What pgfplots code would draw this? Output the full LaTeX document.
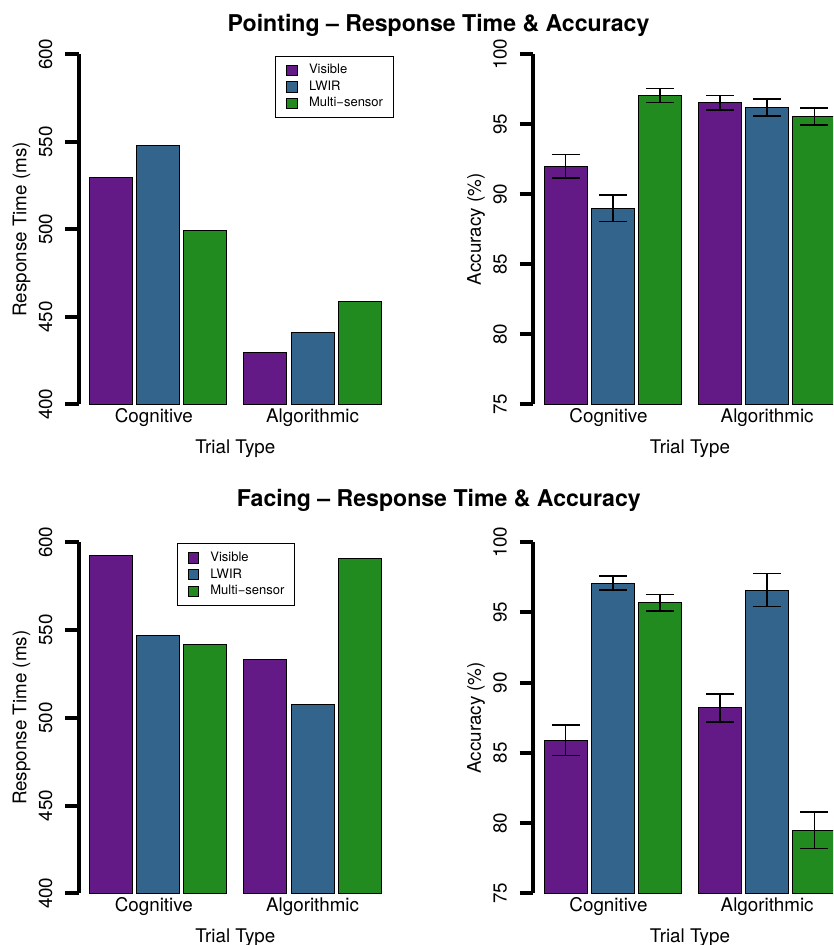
\documentclass[border=0pt]{standalone}
\usepackage{fontspec}
\setmainfont{TeX Gyre Heros}
\usepackage{pgfplots}
\pgfplotsset{compat=1.18}
\usepackage{pgfplotstable}

\definecolor{cvis}{HTML}{641A86}
\definecolor{clwir}{HTML}{33648B}
\definecolor{cmulti}{HTML}{228B1F}

% Pointing - response time (ms)
\pgfplotstableread{
group vis lwir multi
1 529.5 548.0 499.4
2 429.7 441.3 458.6
}\ptrt
% Pointing - accuracy (%)
\pgfplotstableread{
group vis visE lwir lwirE multi multiE
1 92.0 0.85 89.0 0.95 97.05 0.50
2 96.55 0.52 96.2 0.60 95.55 0.60
}\ptacc
% Facing - response time (ms)
\pgfplotstableread{
group vis lwir multi
1 592.6 546.7 541.5
2 533.5 507.7 590.7
}\fart
% Facing - accuracy (%)
\pgfplotstableread{
group vis visE lwir lwirE multi multiE
1 85.9 1.07 97.1 0.50 95.7 0.59
2 88.2 1.00 96.6 1.17 79.5 1.30
}\faacc

\pgfplotsset{
  panel/.style={
    scale only axis, width=156.65pt,
    xmin=-0.252, xmax=7.052,
    axis lines*=left, axis line style={-},
    x axis line style={draw=none},
    y axis line style={line width=2pt, black},
    xtick={1.5,5.2}, xticklabels={Cognitive,Algorithmic},
    x tick style={draw=none},
    ytick style={line width=2pt, black},
    tick align=outside, major tick length=6.8pt,
    /pgf/number format/assume math mode=true,
    tick label style={font=\fontsize{9.4}{11}\selectfont},
    label style={font=\fontsize{9.4}{11}\selectfont},
    yticklabel style={rotate=90, anchor=south, inner sep=0pt, yshift=6.15pt},
    xticklabel style={anchor=base, inner sep=0pt, yshift=-2.4pt},
    xlabel={Trial Type},
    xlabel style={at={(axis description cs:0.5,0)}, anchor=base, inner sep=0pt, yshift=-24.85pt},
    ylabel style={at={(axis description cs:0,0.5)}, anchor=center, yshift=28.6pt},
    bar width=1,
    error bars/error bar style={line width=0.75pt, black},
    error bars/error mark options={rotate=90, line width=0.75pt, mark size=7pt, black},
    legend image code/.code={\draw[#1,draw=black,line width=0.4pt] (0pt,-2.6pt) rectangle (5.2pt,2.6pt);},
    legend style={anchor=north west, draw=black, line width=0.5pt,
      font=\fontsize{6.5}{8}\selectfont, inner xsep=5.2pt, inner ysep=3.8pt,
      nodes={inner sep=0pt, text height=5pt, text depth=1.5pt},
      row sep=1.8pt, column sep=5.8pt},
    legend cell align=left,
  },
  barV/.style={ybar, fill=cvis, draw=black, line width=0.5pt},
  barL/.style={ybar, fill=clwir, draw=black, line width=0.5pt},
  barM/.style={ybar, fill=cmulti, draw=black, line width=0.5pt},
}

\begin{document}
\begin{tikzpicture}
\useasboundingbox (0,0) rectangle (416.5pt,472.5pt);
\clip (0,0) rectangle (416.5pt,472.5pt);

\node[anchor=base, font=\fontsize{11.55}{13}\selectfont\bfseries] at (219.25pt,456.65pt) {Pointing – Response Time \& Accuracy};
\node[anchor=base, font=\fontsize{11.55}{13}\selectfont\bfseries] at (219.4pt,219.15pt) {Facing – Response Time \& Accuracy};

% Top left: pointing RT
\begin{axis}[panel, at={(39.35pt,270.35pt)}, anchor=south west, height=175pt,
  ymin=400, ymax=600, ytick={400,450,500,550,600}, ylabel={Response Time (ms)},
  legend style={at={(axis description cs:0.6275,0.996)}}]
\addplot[barV] table[x expr=\coordindex*3.6+0.5, y=vis] \ptrt;
\addplot[barL] table[x expr=\coordindex*3.6+1.6, y=lwir] \ptrt;
\addplot[barM] table[x expr=\coordindex*3.6+2.7, y=multi] \ptrt;
\legend{Visible,LWIR,Multi−sensor}
\end{axis}

% Top right: pointing accuracy
\begin{axis}[panel, at={(266.65pt,270.35pt)}, anchor=south west, height=175pt,
  ymin=75, ymax=100, ytick={75,80,85,90,95,100}, ylabel={Accuracy (\%)}]
\addplot[barV, error bars/.cd, y dir=both, y explicit] table[x expr=\coordindex*3.6+0.5, y=vis, y error=visE] \ptacc;
\addplot[barL, error bars/.cd, y dir=both, y explicit] table[x expr=\coordindex*3.6+1.6, y=lwir, y error=lwirE] \ptacc;
\addplot[barM, error bars/.cd, y dir=both, y explicit] table[x expr=\coordindex*3.6+2.7, y=multi, y error=multiE] \ptacc;
\end{axis}

% Bottom left: facing RT
\begin{axis}[panel, at={(39.35pt,25.85pt)}, anchor=south west, height=175.5pt,
  ymin=400, ymax=600, ytick={400,450,500,550,600}, ylabel={Response Time (ms)},
  legend style={at={(axis description cs:0.3128,0.997)}}]
\addplot[barV] table[x expr=\coordindex*3.6+0.5, y=vis] \fart;
\addplot[barL] table[x expr=\coordindex*3.6+1.6, y=lwir] \fart;
\addplot[barM] table[x expr=\coordindex*3.6+2.7, y=multi] \fart;
\legend{Visible,LWIR,Multi−sensor}
\end{axis}

% Bottom right: facing accuracy
\begin{axis}[panel, at={(266.65pt,25.85pt)}, anchor=south west, height=175.5pt,
  ymin=75, ymax=100, ytick={75,80,85,90,95,100}, ylabel={Accuracy (\%)}]
\addplot[barV, error bars/.cd, y dir=both, y explicit] table[x expr=\coordindex*3.6+0.5, y=vis, y error=visE] \faacc;
\addplot[barL, error bars/.cd, y dir=both, y explicit] table[x expr=\coordindex*3.6+1.6, y=lwir, y error=lwirE] \faacc;
\addplot[barM, error bars/.cd, y dir=both, y explicit] table[x expr=\coordindex*3.6+2.7, y=multi, y error=multiE] \faacc;
\end{axis}
\end{tikzpicture}
\end{document}
